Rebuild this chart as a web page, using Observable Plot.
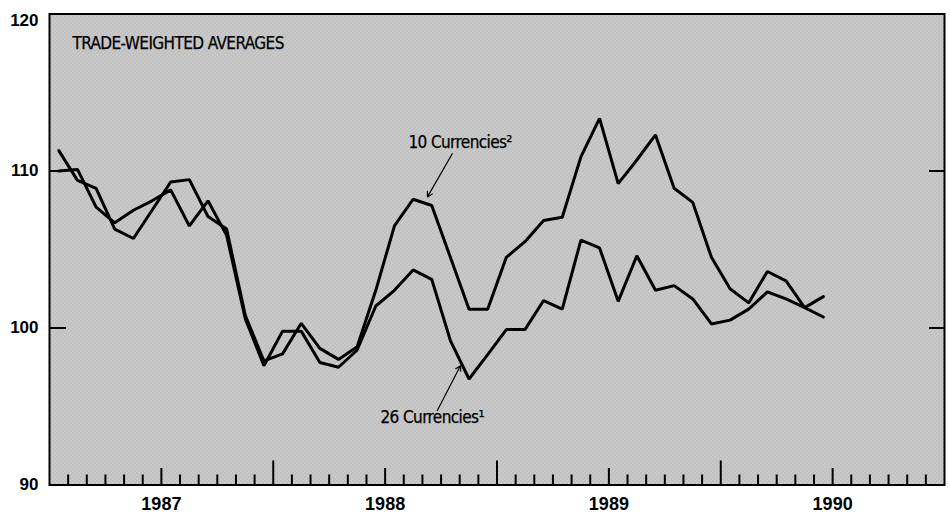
<!DOCTYPE html>
<html>
<head>
<meta charset="utf-8">
<script src="https://cdn.jsdelivr.net/npm/d3@7"></script>
<script src="https://cdn.jsdelivr.net/npm/@observablehq/plot@0.6"></script>
<style>
  html, body { margin: 0; padding: 0; background: #ffffff; }
  #chart svg { display: block; }
</style>
</head>
<body>
<div id="chart"></div>
<script>
// ---- data (monthly, Jan 1987 – Jun 1990) ----
const startYear = 1987;
const monthsShown = 48; // axis spans Jan 1987 – Dec 1990
const currencies10 = [111.3, 109.4, 108.9, 106.3, 105.7, 107.5, 109.3, 109.45, 107.1, 106.3,
  100.8, 97.9, 98.35, 100.3, 98.7, 98.0, 98.8, 102.4, 106.5, 108.2,
  107.8, 104.5, 101.2, 101.2, 104.5, 105.5, 106.85, 107.05, 110.9, 113.35,
  109.2, 110.7, 112.3, 108.9, 108.0, 104.5, 102.5, 101.6, 103.6, 103.0,
  101.3, 102.0];
const currencies26 = [110.0, 110.1, 107.7, 106.7, 107.5, 108.1, 108.8, 106.5, 108.1, 105.9,
  100.6, 97.6, 99.8, 99.8, 97.8, 97.5, 98.6, 101.4, 102.4, 103.7,
  103.1, 99.2, 96.75, 98.3, 99.9, 99.9, 101.75, 101.2, 105.6, 105.1,
  101.7, 104.6, 102.4, 102.7, 101.85, 100.26, 100.5, 101.2, 102.3, 101.85,
  101.3, 100.7];
const yTicks = [90, 100, 110, 120];
const yearLabels = ["1987", "1988", "1989", "1990"];
const title = "TRADE-WEIGHTED AVERAGES";
const label10 = "10 Currencies²";
const label26 = "26 Currencies¹";

// ---- layout ----
const W = 950, H = 513;
const mL = 49, mR = 6, mT = 13.5, mB = 28.5;
const yMin = 90, yMax = 120;
const kY = (H - mT - mB) / (yMax - yMin);      // px per index point
const kX = (W - mL - mR) / monthsShown;         // px per month
const narrow = "'Liberation Sans Narrow', 'DejaVu Sans Condensed', 'Liberation Sans', Arial, sans-serif";
const sans = "'Liberation Sans', Arial, Helvetica, sans-serif";

const toRows = (arr) => arr.map((v, i) => ({m: i + 0.5, v}));
const rows10 = toRows(currencies10);
const rows26 = toRows(currencies26);

// tick sets (month boundaries)
const allMonthTicks = d3.range(1, monthsShown);
const midYearTicks = yearLabels.map((_, i) => i * 12 + 6);
const yearTicks = d3.range(12, monthsShown, 12);
const smallTicks = allMonthTicks.filter(t => !midYearTicks.includes(t) && !yearTicks.includes(t));

// annotation anchors (month, index value)
const ann = {
  title: {m: 1.23, v: 118.1},
  l10: {m: 19.25, v: 111.8, tail: {m: 21.6, v: 111.1}, head: {m: 20.27, v: 108.35}},
  l26: {m: 17.75, v: 94.3, tail: {m: 20.8, v: 94.75}, head: {m: 22.04, v: 97.6}}
};
const annText = {textAnchor: "start", lineAnchor: "middle", fontSize: 17, fontFamily: narrow, fill: "black", stroke: "black", strokeWidth: 0.25};

const chart = Plot.plot({
  width: W, height: H,
  marginLeft: mL, marginRight: mR, marginTop: mT, marginBottom: mB,
  x: {type: "linear", domain: [0, monthsShown], axis: null},
  y: {domain: [yMin, yMax], axis: null},
  style: {background: "#ffffff", fontFamily: sans, overflow: "visible"},
  marks: [
    Plot.frame({fill: "#c4c4c4", stroke: null, className: "bgframe"}),
    // bottom inward ticks
    Plot.ruleX(smallTicks, {x: d => d, y1: yMin, y2: yMin + 10 / kY, stroke: "black", strokeWidth: 2}),
    Plot.ruleX(midYearTicks, {x: d => d, y1: yMin, y2: yMin + 16.5 / kY, stroke: "black", strokeWidth: 2}),
    Plot.ruleX(yearTicks, {x: d => d, y1: yMin, y2: yMin + 24 / kY, stroke: "black", strokeWidth: 2}),
    // left / right inward ticks
    Plot.ruleY(yTicks.slice(1, -1), {y: d => d, x1: 0, x2: 17 / kX, stroke: "black", strokeWidth: 2}),
    Plot.ruleY(yTicks.slice(1, -1), {y: d => d, x1: monthsShown - 15 / kX, x2: monthsShown, stroke: "black", strokeWidth: 2}),
    // series
    Plot.line(rows26, {x: "m", y: "v", stroke: "black", strokeWidth: 3, strokeLinejoin: "miter"}),
    Plot.line(rows10, {x: "m", y: "v", stroke: "black", strokeWidth: 3, strokeLinejoin: "miter"}),
    // frame
    Plot.frame({stroke: "black", strokeWidth: 2}),
    // y tick labels
    Plot.text(yTicks.filter(t => t !== yMax), {x: 0, y: d => d, text: d => String(d), dx: -11, textAnchor: "end", lineAnchor: "middle", fontSize: 17, fontWeight: "bold", fontFamily: sans, fill: "black"}),
    Plot.text([yMax], {x: 0, y: d => d, text: d => String(d), dx: -11, dy: 7, textAnchor: "end", lineAnchor: "middle", fontSize: 17, fontWeight: "bold", fontFamily: sans, fill: "black"}),
    // x year labels
    Plot.text(yearLabels, {x: (d, i) => midYearTicks[i], y: yMin, text: d => d, dy: 12, textAnchor: "middle", lineAnchor: "top", fontSize: 18, fontWeight: "bold", fontFamily: sans, fill: "black"}),
    // annotations
    Plot.text([title], {x: ann.title.m, y: ann.title.v, text: d => d, ...annText, className: "ann"}),
    Plot.text([label10], {x: ann.l10.m, y: ann.l10.v, text: d => d, ...annText, className: "ann"}),
    Plot.text([label26], {x: ann.l26.m, y: ann.l26.v, text: d => d, ...annText, className: "ann"}),
    Plot.arrow([ann.l10, ann.l26], {x1: d => d.tail.m, y1: d => d.tail.v, x2: d => d.head.m, y2: d => d.head.v, stroke: "black", strokeWidth: 1.2, headLength: 7})
  ]
});

// halftone-like texture for the plotting area
const svg = d3.select(chart);
const defs = svg.insert("defs", ":first-child");
const pat = defs.append("pattern").attr("id", "halftone")
  .attr("width", 4).attr("height", 4).attr("patternUnits", "userSpaceOnUse");
pat.append("rect").attr("width", 4).attr("height", 4).attr("fill", "#dcdcdc");
[[0,0,"#9a9a9a"],[2,2,"#9a9a9a"],[1,1,"#b4b4b4"],[3,3,"#b4b4b4"],[2,0,"#c0c0c0"],[0,2,"#c0c0c0"],[3,1,"#a8a8a8"],[1,3,"#a8a8a8"]]
  .forEach(([x, y, c]) => pat.append("rect").attr("x", x).attr("y", y).attr("width", 1).attr("height", 1).attr("fill", c));
svg.selectAll(".bgframe rect, rect.bgframe").attr("fill", "url(#halftone)");
svg.selectAll(".ann text, text.ann, .ann").style("letter-spacing", "-0.6px");

document.getElementById("chart").appendChild(chart);
</script>
</body>
</html>
